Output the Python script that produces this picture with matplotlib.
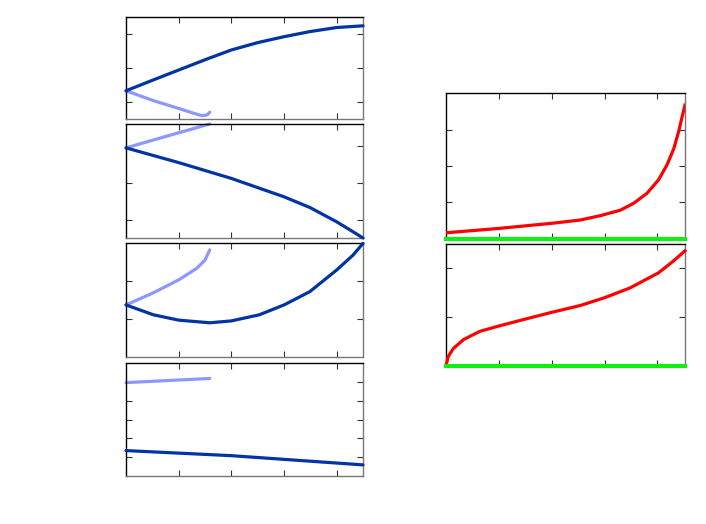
import matplotlib
matplotlib.use("Agg")
import matplotlib.pyplot as plt

# left column, panel by panel (x, dark curve / light curve)
p1_dx = [0, 0.52, 1.0, 1.53, 2.0, 2.51, 3.0, 3.49, 4.0, 4.5]
p1_dy = [0.83, 1.15, 1.44, 1.76, 2.03, 2.25, 2.42, 2.57, 2.69, 2.74]
p1_lx = [0, 0.52, 1.0, 1.28, 1.44, 1.54, 1.59]
p1_ly = [0.83, 0.54, 0.31, 0.17, 0.10, 0.12, 0.20]

p2_dx = [0, 1.0, 2.0, 3.0, 3.49, 4.0, 4.31, 4.5]
p2_dy = [2.45, 2.05, 1.62, 1.12, 0.83, 0.44, 0.17, 0.0]
p2_lx = [0, 0.8, 1.59]
p2_ly = [2.45, 2.78, 3.10]

p3_dx = [0, 0.52, 1.0, 1.59, 2.0, 2.53, 3.0, 3.49, 4.0, 4.31, 4.5]
p3_dy = [1.37, 1.11, 0.97, 0.90, 0.95, 1.11, 1.37, 1.72, 2.29, 2.68, 2.99]
p3_lx = [0, 0.52, 1.0, 1.34, 1.50, 1.59]
p3_ly = [1.37, 1.69, 2.03, 2.33, 2.55, 2.82]

p4_dx = [0, 2.0, 4.5]
p4_dy = [1.35, 1.08, 0.59]
p4_lx = [0, 1.59]
p4_ly = [4.96, 5.18]

# right column
ra_x = [0, 1.0, 2.0, 2.54, 2.92, 3.30, 3.55, 3.80, 4.02, 4.18, 4.31, 4.40, 4.46, 4.52]
ra_y = [0.17, 0.29, 0.43, 0.52, 0.64, 0.79, 0.98, 1.25, 1.62, 2.03, 2.48, 2.94, 3.31, 3.67]
rb_x = [0, 0.04, 0.14, 0.33, 0.64, 1.0, 1.53, 2.0, 2.54, 3.0, 3.48, 4.02, 4.30, 4.52]
rb_y = [0, 0.19, 0.36, 0.54, 0.71, 0.82, 0.97, 1.10, 1.24, 1.40, 1.60, 1.91, 2.15, 2.36]

dark = "#0033a3"
light = "#8c98ff"

fig = plt.figure(figsize=(7.06, 5.24), dpi=100)


def style(ax, xmax, ymax, yticks):
    ax.set_xlim(0, xmax)
    ax.set_ylim(0, ymax)
    ax.set_xticks([1, 2, 3, 4])
    ax.set_yticks(yticks)
    ax.tick_params(direction="in", top=True, right=True, length=4, width=0.8,
                   colors="#333333", labelbottom=False, labelleft=False)
    for s in ("top", "left"):
        ax.spines[s].set_color("black")
    for s in ("bottom", "right"):
        ax.spines[s].set_color("#777777")
    for s in ax.spines.values():
        s.set_linewidth(1.0)


left = [
    ([0.1785, 0.7729, 0.3357, 0.1947], p1_dx, p1_dy, p1_lx, p1_ly, 3, [0.5, 1.5, 2.5]),
    ([0.1785, 0.5458, 0.3357, 0.2176], p2_dx, p2_dy, p2_lx, p2_ly, 3.1, [0.5, 1.5, 2.5]),
    ([0.1785, 0.3187, 0.3357, 0.2176], p3_dx, p3_dy, p3_lx, p3_ly, 3, [1, 2]),
    ([0.1785, 0.0916, 0.3357, 0.2156], p4_dx, p4_dy, p4_lx, p4_ly, 6, [1, 2, 3, 4, 5]),
]
for rect, dx, dy, lx, ly, ymax, yt in left:
    ax = fig.add_axes(rect)
    ax.plot(dx, dy, color=dark, lw=2.3, solid_capstyle="round", solid_joinstyle="round",
            clip_on=False, zorder=3)
    ax.plot(lx, ly, color=light, lw=2.3, solid_capstyle="round", solid_joinstyle="round",
            clip_on=False, zorder=2)
    style(ax, 4.5, ymax, yt)

axa = fig.add_axes([0.6317, 0.5439, 0.3385, 0.2786])
axa.plot(ra_x, ra_y, color="#ff0000", lw=2.3, solid_joinstyle="round", zorder=3)
axa.plot([0, 4.52], [0, 0], color="#11ee11", lw=3, clip_on=False, zorder=4)
style(axa, 4.52, 4, [1, 2, 3])

axb = fig.add_axes([0.6317, 0.3015, 0.3385, 0.2328])
axb.plot(rb_x, rb_y, color="#ff0000", lw=2.3, solid_joinstyle="round", clip_on=False, zorder=3)
axb.plot([0, 4.52], [0, 0], color="#11ee11", lw=3, clip_on=False, zorder=4)
style(axb, 4.52, 2.5, [1, 2])

fig.savefig("out.png", dpi=100)
